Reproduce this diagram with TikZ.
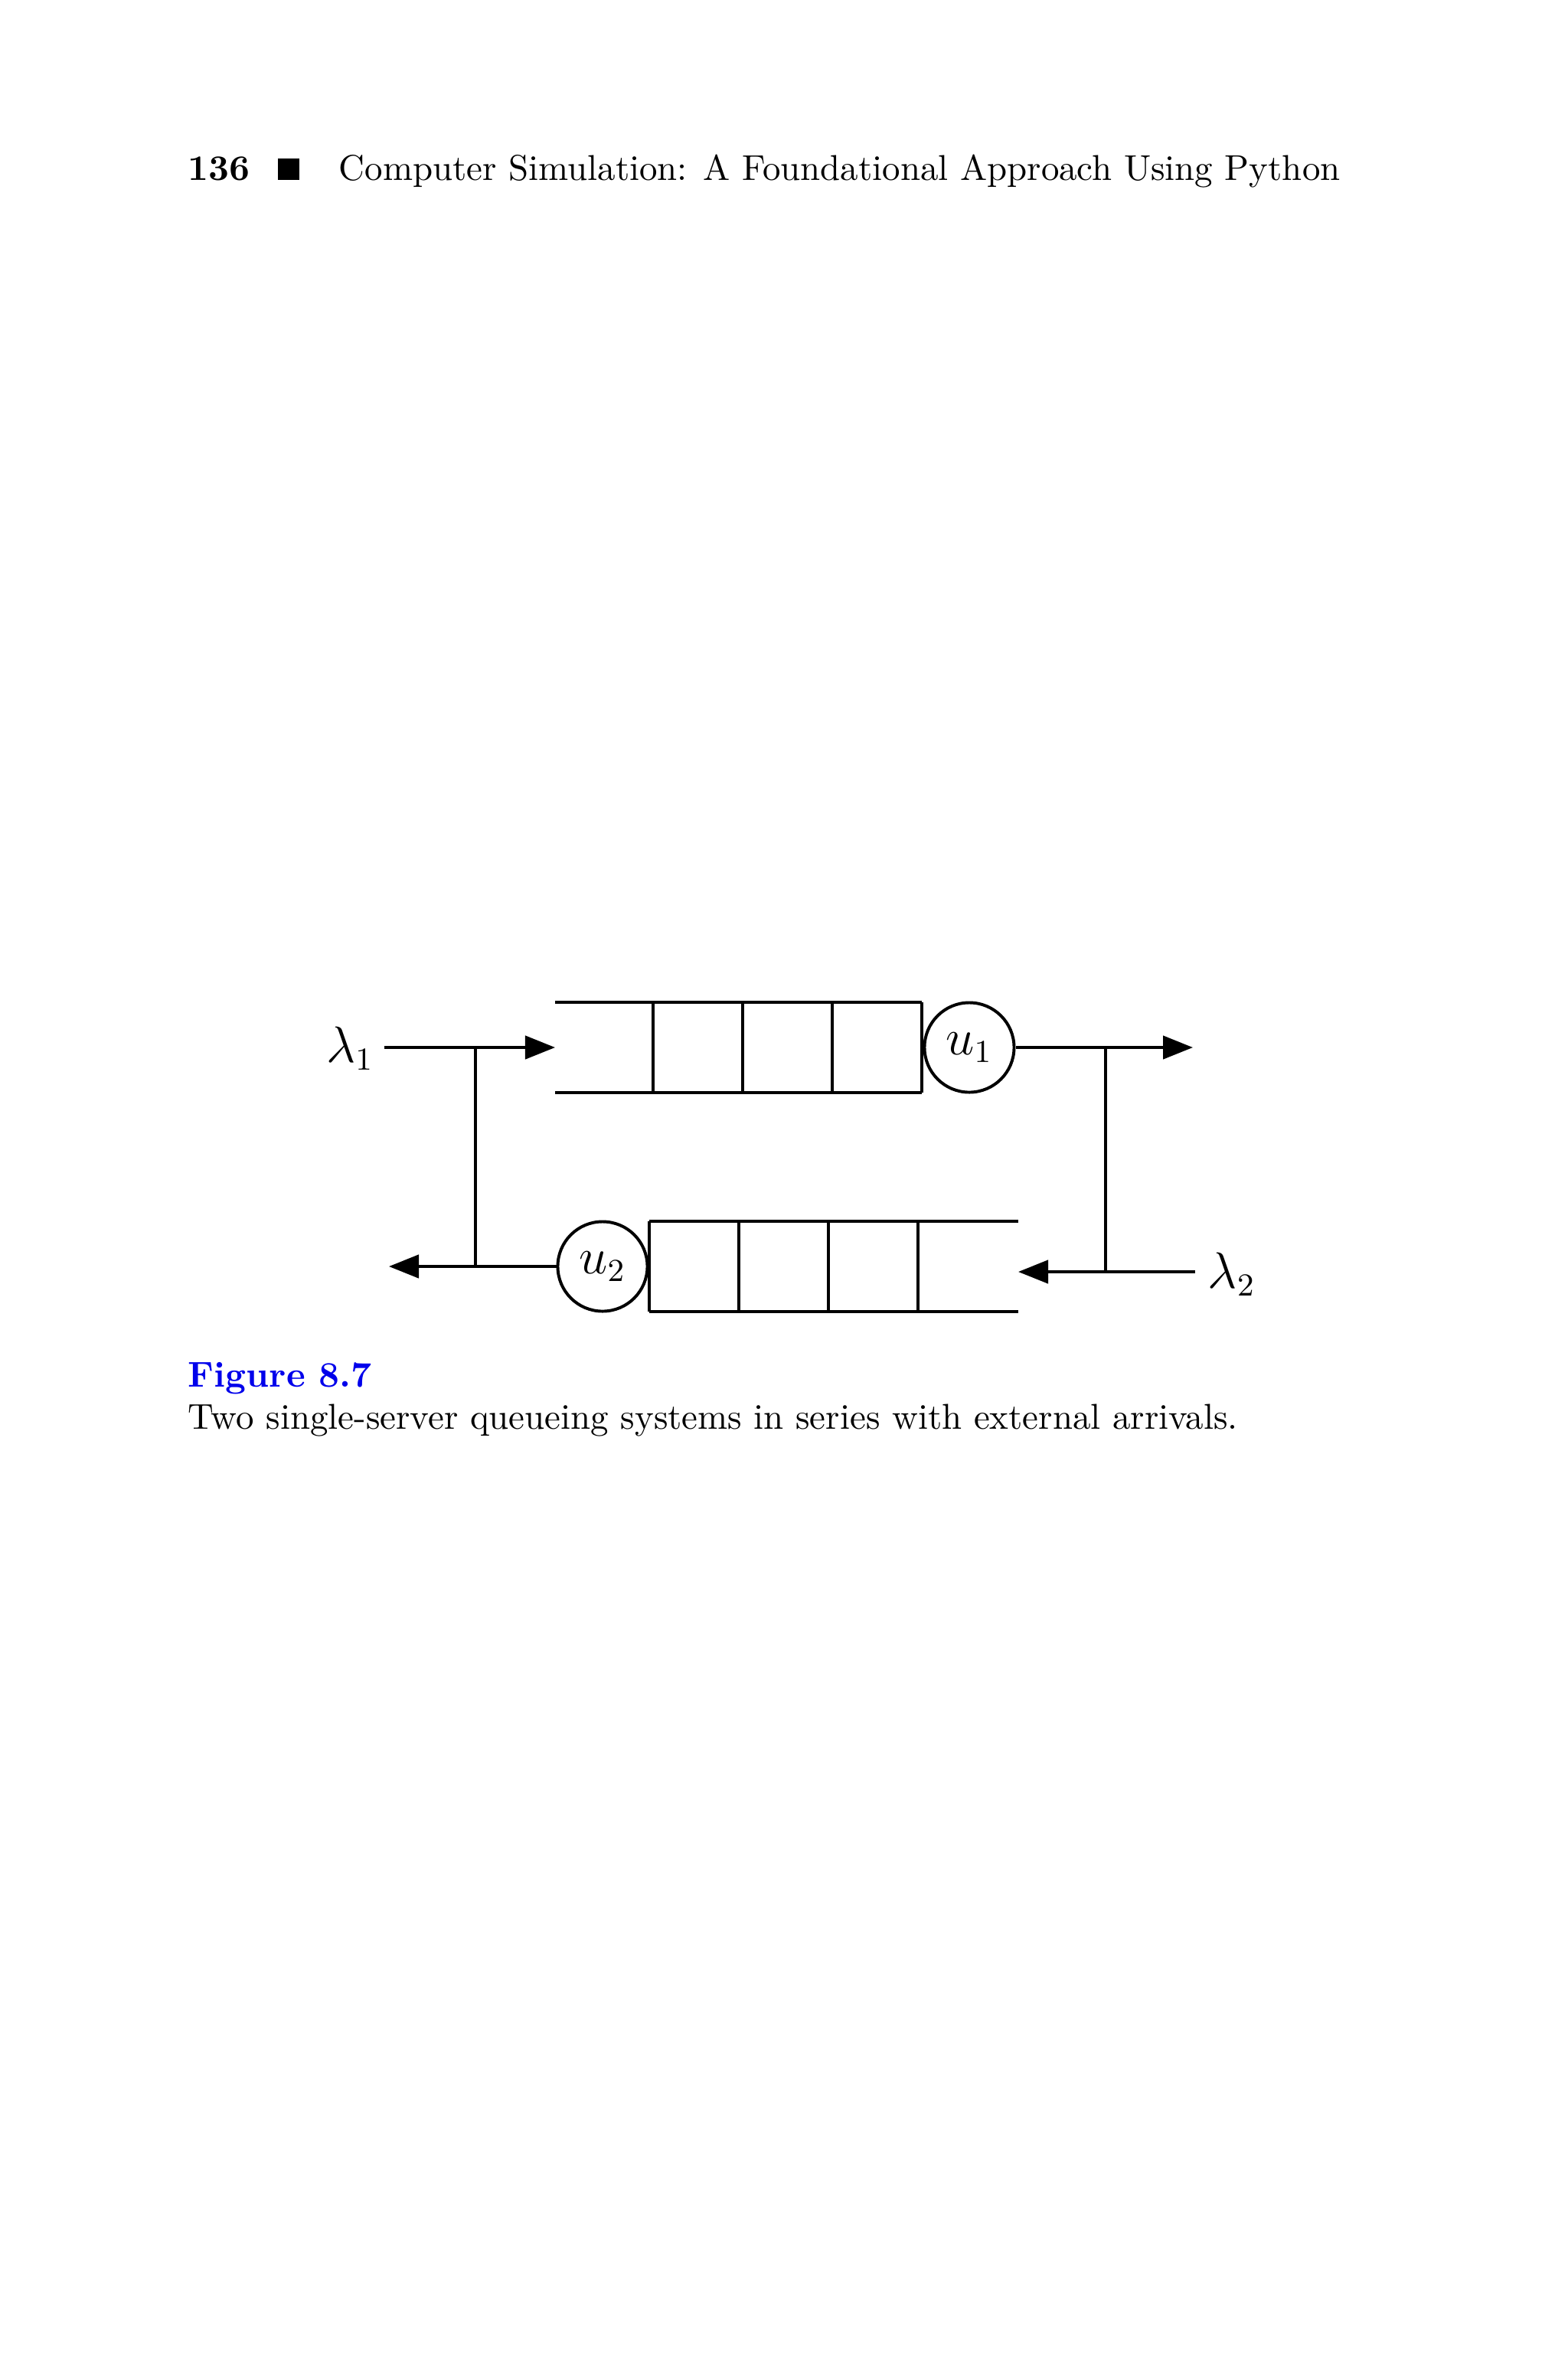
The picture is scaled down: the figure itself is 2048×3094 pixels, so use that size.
\documentclass[tikz,border=0pt]{standalone}
\usetikzlibrary{arrows.meta}
\definecolor{capblue}{RGB}{0,0,235}
\begin{document}
\begin{tikzpicture}[x=0.21533pt,y=-0.21533pt,
  thickln/.style={line width=0.85pt},
  thinln/.style={line width=0.8pt},
  arr/.style={thickln,-{Triangle[length=8.4pt,width=6.5pt]}},
  server/.style={circle,draw,line width=0.85pt,inner sep=0pt,minimum size=25.2pt,font=\fontsize{13.5}{16}\selectfont},
  lbl/.style={inner sep=0pt,font=\fontsize{13.5}{16}\selectfont},
  txt/.style={inner sep=0pt,anchor=base west,font=\fontsize{10.1}{12}\selectfont}]
\useasboundingbox (0,0) rectangle (2048,3094);
% header
\node[txt] (pg) at (245,235) {\textbf{136}};
\fill (363,207) rectangle (391,235);
\node[txt] (hd) at (442,235) {Computer Simulation: A Foundational Approach Using Python};
% upper queue
\coordinate (q1tl) at (725,1309);
\coordinate (q1tr) at (1204,1309);
\coordinate (q1bl) at (725,1427);
\coordinate (q1br) at (1204,1427);
\coordinate (q1in) at (725,1368);
\draw[thickln] (q1tl) -- (q1tr);
\draw[thickln] (q1bl) -- (q1br);
\foreach \x in {853,970,1087,1204} \draw[thinln] (\x,1309) -- (\x,1427);
\node[server] (u1) at (1266,1368) {$u_1$};
% lambda 1
\node[lbl,anchor=east] (l1) at (489,1369) {$\lambda_1$};
\coordinate (l1s) at (502,1368);
\draw[arr] (l1s) -- (q1in);
\coordinate (j1) at (621,1368);
\coordinate (out1) at (1558,1368);
\draw[arr] (u1.east) -- (out1);
\coordinate (j2) at (1444,1368);
% lower queue
\coordinate (q2tl) at (848,1595);
\coordinate (q2tr) at (1330,1595);
\coordinate (q2bl) at (848,1713);
\coordinate (q2br) at (1330,1713);
\draw[thickln] (q2tl) -- (q2tr);
\draw[thickln] (q2bl) -- (q2br);
\foreach \x in {848,965,1082,1199} \draw[thinln] (\x,1595) -- (\x,1713);
\node[server] (u2) at (787,1654) {$u_2$};
\coordinate (out2) at (508,1654);
\draw[arr] (u2.west) -- (out2);
\coordinate (j3) at (621,1654);
% lambda 2
\node[lbl,anchor=west] (l2) at (1577,1664) {$\lambda_2$};
\coordinate (q2in) at (1330,1661);
\coordinate (l2s) at (1561,1661);
\draw[arr] (l2s) -- (q2in);
\coordinate (j4) at (1444,1661);
% verticals
\draw[thinln] (j1) -- (j3);
\draw[thinln] (j2) -- (j4);
% caption
\node[txt,text=capblue] (fig) at (245,1811) {\textbf{Figure 8.7}};
\node[txt] (cap) at (245,1866) {Two single-server queueing systems in series with external arrivals.};
\end{tikzpicture}
\end{document}
